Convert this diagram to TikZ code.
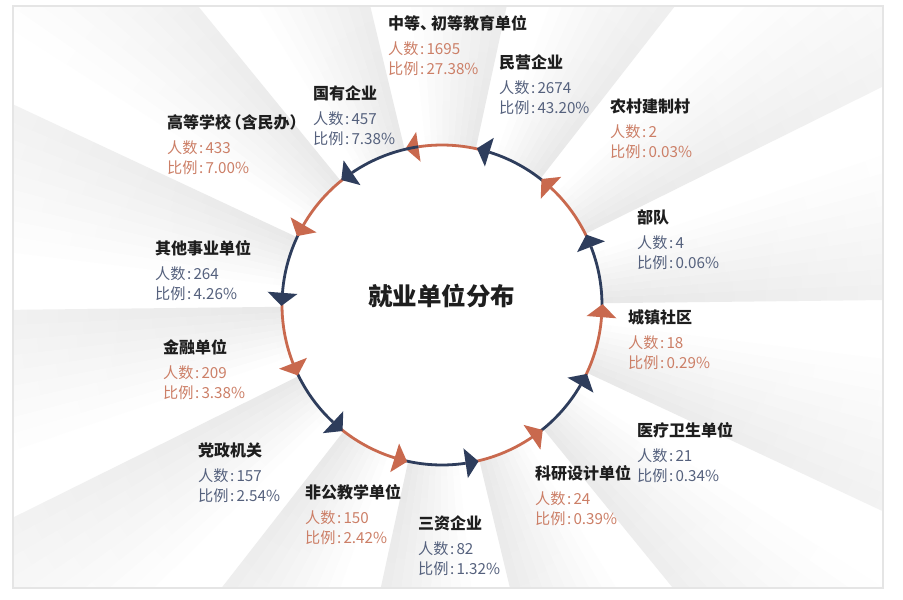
\documentclass[tikz,border=0pt]{standalone}
\usepackage{fontspec}
\setmainfont{Noto Sans CJK SC}
\usetikzlibrary{calc}
\definecolor{navy}{HTML}{2E3D5C}
\definecolor{orng}{HTML}{C9694E}
\definecolor{navytxt}{HTML}{55617D}
\definecolor{orngtxt}{HTML}{CC7F67}
\definecolor{ttlc}{HTML}{1E1E1E}
\tikzset{
 ttlnode/.style={anchor=west, inner sep=0pt, text=ttlc, font=\fontsize{16}{18}\selectfont\bfseries},
 datnode/.style={anchor=west, inner sep=0pt, font=\fontsize{15.2}{17}\selectfont},
 ring/.style={line width=2.8pt},
}
\newcommand\clon{\kern1.5pt:\kern2.2pt}
\begin{document}
\begin{tikzpicture}[x=1pt,y=-1pt]
\useasboundingbox (0,0) rectangle (903,600);
\fill[white] (0,0) rectangle (903,600);
% gray rays
\begin{scope}
\clip (13,6) rectangle (883,588);
\begin{scope}[shift={(442,305)},yscale=-1]
\foreach \i in {0,...,13}{
  \pgfmathsetmacro\E{98.5-25.714*\i+5}
  \foreach \j in {0,...,8}{
    \pgfmathsetmacro\lev{11*(1-\j/9)}
    \pgfmathsetmacro\sa{\E+2*\j}
    \pgfmathsetmacro\sb{\E+2*\j+2.1}
    \begin{scope}
      \clip (0,0) -- (\sa:700) -- (\sb:700) -- cycle;
      \shade[inner color=black!\lev, outer color=white] (0,0) circle (860);
    \end{scope}
  }
}
\fill[white] (0,0) circle (160);
\end{scope}
\end{scope}
% frame
\draw[black!10, line width=1.5pt] (13,6) rectangle (883,588);
% ring
\begin{scope}[shift={(442,305)},yscale=-1]
\foreach \i in {0,...,13}{
  \pgfmathsetmacro\B{98.5-25.714*\i}
  \pgfmathsetmacro\A{\B-25.714}
  \pgfmathsetmacro\Bt{\B+90}
  \pgfmathsetmacro\Bb{\B+180}
  \ifodd\i\relax\def\col{navy}\else\def\col{orng}\fi
  \draw[ring,draw=\col] (\A:160) arc[start angle=\A, end angle=\B, radius=160];
  \fill[\col] ($(\B:160)+(\B:15)$) -- ($(\B:160)+(\Bt:13)$) -- ($(\B:160)+(\Bb:15)$) -- cycle;
}
\end{scope}
\node[font=\fontsize{24.5}{28}\selectfont\bfseries, text=ttlc, inner sep=0pt] (ctr) at (441.5,296) {就业单位分布};
\foreach \lname/\lx/\ly/\ltxt/\lcol/\lnum/\lpct in {
 zd/388/23/{中等、\kern-5pt初等教育单位}/orngtxt/1695/27.38,
 my/499/62/民营企业/navytxt/2674/43.20,
 nc/610/106/农村建制村/orngtxt/2/0.03,
 bd/637/217/部队/navytxt/4/0.06,
 cz/628/317/城镇社区/orngtxt/18/0.29,
 yl/637/430/医疗卫生单位/navytxt/21/0.34,
 ky/535/473/科研设计单位/orngtxt/24/0.39,
 sz/418/523/三资企业/navytxt/82/1.32,
 fg/305/492/非公教学单位/orngtxt/150/2.42,
 dz/198/450/党政机关/navytxt/157/2.54,
 jr/163/347/金融单位/orngtxt/209/3.38,
 qt/155/248/其他事业单位/navytxt/264/4.26,
 gd/167/122/{高等学校\kern-5.5pt（含民办）}/orngtxt/433/7.00,
 gy/313/93/国有企业/navytxt/457/7.38}{
 \node[ttlnode] (\lname-t) at (\lx,\ly) {\ltxt};
 \node[datnode,text=\lcol] (\lname-n) at (\lx,\ly+26) {人数\clon\lnum};
 \node[datnode,text=\lcol] (\lname-p) at (\lx,\ly+46) {比例\clon\lpct\%};
}
\end{tikzpicture}
\end{document}
